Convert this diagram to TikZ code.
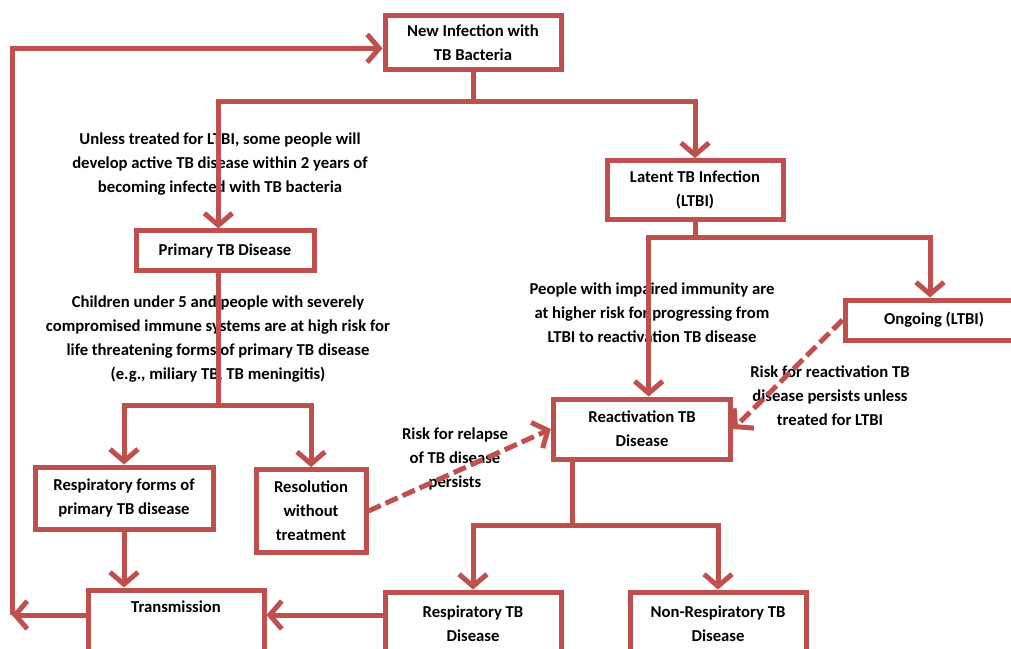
\documentclass[tikz,border=0pt]{standalone}
\usepackage{fontspec}
\setmainfont{Carlito}
\usetikzlibrary{arrows.meta}
\definecolor{tbred}{RGB}{192,80,77}

\begin{document}
\begin{tikzpicture}[x=0.75pt, y=-0.75pt, line join=miter,
    font=\fontsize{12.5}{18}\selectfont\bfseries,
    box/.style={draw=tbred, line width=3.75pt, fill=white, align=center, inner sep=0pt},
    note/.style={align=center, inner sep=0pt},
    conn/.style={draw=tbred, line width=3.75pt},
    arr/.style={conn, -{Straight Barb[length=9pt,width=21pt]}},
    dasharr/.style={arr, dash pattern=on 10pt off 4pt}]
  \useasboundingbox (0,0) rectangle (1011,649);

  % boxes
  \node[box, minimum width=132pt, minimum height=40.5pt] (newinf) at (473,43) {New Infection with\\TB Bacteria};
  \node[box, minimum width=132pt, minimum height=44pt] (ltbi) at (695,190) {Latent TB Infection\\(LTBI)};
  \node[box, minimum width=133.5pt, minimum height=30pt] (primary) at (225,251) {Primary TB Disease};
  \node[box, minimum width=133.5pt, minimum height=30pt] (ongoing) at (934,320) {Ongoing (LTBI)};
  \node[box, minimum width=133pt, minimum height=45pt] (react) at (642,429) {Reactivation TB\\Disease};
  \node[box, minimum width=133.5pt, minimum height=46.5pt] (respforms) at (124,498) {Respiratory forms of\\primary TB disease};
  \node[box, minimum width=82.5pt, minimum height=62pt] (resolution) at (311,511) {Resolution\\without\\treatment};
  \node[box, minimum width=132pt, minimum height=48pt] (transmission) at (176,622) {Transmission\\\strut};
  \node[box, minimum width=132pt, minimum height=48pt] (resptb) at (473,624) {Respiratory TB\\Disease};
  \node[box, minimum width=132pt, minimum height=48pt] (nonresptb) at (718,624) {Non-Respiratory TB\\Disease};

  % notes
  \node[note] (n1) at (220,164) {Unless treated for LTBI, some people will\\develop active TB disease within 2 years of\\becoming infected with TB bacteria};
  \node[note] (n2) at (652,313) {People with impaired immunity are\\at higher risk for progressing from\\LTBI to reactivation TB disease};
  \node[note] (n3) at (218,339) {Children under 5 and people with severely\\compromised immune systems are at high risk for\\life threatening forms of primary TB disease\\(e.g., miliary TB, TB meningitis)};
  \node[note] (n4) at (455,459) {Risk for relapse\\of TB disease\\persists};
  \node[note] (n5) at (830,396) {Risk for reactivation TB\\disease persists unless\\treated for LTBI};

  % split points
  \coordinate (s1) at (473,102);
  \coordinate (s2) at (695,238);
  \coordinate (s3) at (218,405);
  \coordinate (s4) at (572,525);
  \coordinate (loop) at (12,615);

  \draw[conn] (newinf.south) -- (s1);
  \draw[arr] (s1) -| ([xshift=-5pt]primary.north);
  \draw[arr] (s1) -| (ltbi.north);
  \draw[conn] (ltbi.south) -- (s2);
  \draw[arr] (s2) -| ([xshift=5pt]react.north);
  \draw[arr] (s2) -| ([xshift=-3pt]ongoing.north);
  \draw[conn] (primary.south -| s3) -- (s3);
  \draw[arr] (s3) -| (respforms.north);
  \draw[arr] (s3) -| (resolution.north);
  \draw[arr] (respforms.south) -- (respforms.south |- transmission.north);
  \draw[conn] (react.south -| s4) -- (s4);
  \draw[arr] (s4) -| (resptb.north);
  \draw[arr] (s4) -| (nonresptb.north);
  \draw[arr] (resptb.west |- loop) -- (transmission.east |- loop);
  \draw[arr] (transmission.west |- loop) -- (loop);
  \draw[arr] (loop) |- ([yshift=-4pt]newinf.west);
  \draw[dasharr] (resolution.east) -- (react.west);
  \draw[dasharr] (ongoing.west) -- (react.east);
\end{tikzpicture}
\end{document}
